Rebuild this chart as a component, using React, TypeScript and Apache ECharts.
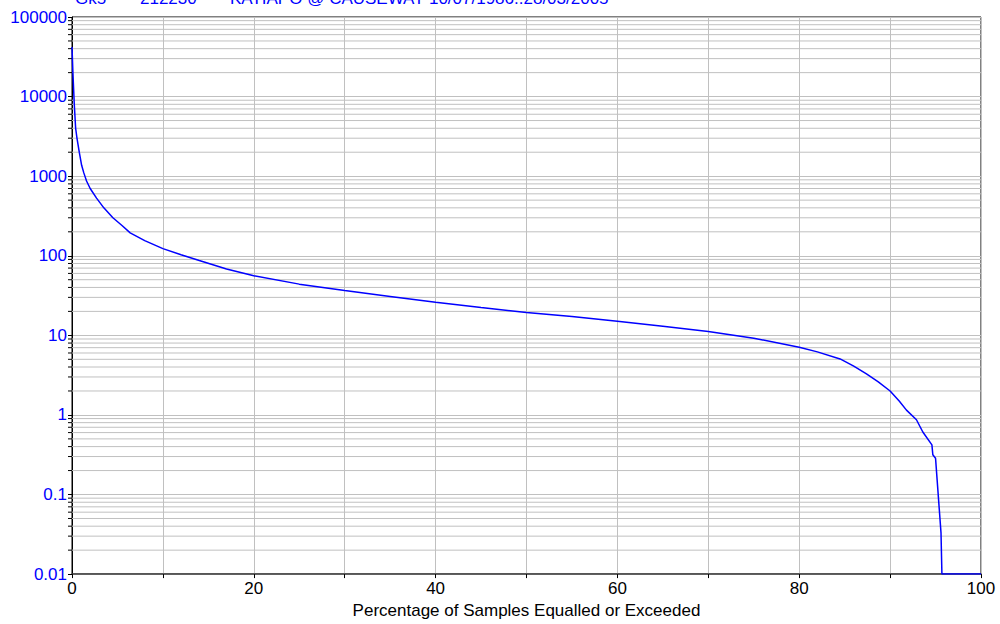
import React, { useEffect, useRef } from "react";
import * as echarts from "echarts";

const percent: number[] = [0, 0.1, 0.25, 0.4, 0.55, 0.8, 1.06, 1.3, 1.6, 2.0, 2.7, 3.5, 4.5, 5.5, 6.4, 8, 10, 12, 14, 17, 20, 25, 30, 35, 40, 45, 50, 55, 60, 65, 70, 75, 80, 82, 84.5, 86, 87.4, 88.7, 90, 91, 91.8, 92.9, 93.6, 94.6, 94.7, 95.0, 95.6, 95.7, 100];
const flowValues: number[] = [42000, 20000, 8000, 4000, 2985, 2000, 1370, 1100, 870, 700, 530, 400, 300, 240, 194, 155, 123, 103, 87, 68, 56, 44, 36.5, 30.8, 26, 22.4, 19.4, 17.3, 15, 13, 11.2, 9.2, 7.1, 6.2, 5.05, 4.1, 3.28, 2.6, 2.0, 1.5, 1.15, 0.87, 0.61, 0.42, 0.316, 0.285, 0.033, 0.01, 0.01];

const yTickLabels: string[] = ["0.01", "0.1", "1", "10", "100", "1000", "10000", "100000"];
const xTickLabels: number[] = [0, 20, 40, 60, 80, 100];
const minorMultipliers: number[] = [2, 3, 4, 5, 6, 7, 8, 9];
const decadeStarts: number[] = [0.01, 0.1, 1, 10, 100, 1000, 10000];

const headerTexts: string[] = ["Gk5", "212230", "KATIAPO @ CAUSEWAY 10/07/1986..28/03/2005"];

const FONT = "'Liberation Sans', Arial, sans-serif";
const BLUE = "#0000ff";

export default function App() {
  const ref = useRef<HTMLDivElement>(null);
  useEffect(() => {
    if (!ref.current) return;
    const chart = echarts.init(ref.current, undefined, { renderer: "svg" });

    const minorVals: number[][] = [];
    decadeStarts.forEach((d) => minorMultipliers.forEach((m) => minorVals.push([0, d * m])));

    const lineData = percent.map((p, i) => [p, flowValues[i]]);

    chart.setOption({
      animation: false,
      backgroundColor: "#ffffff",
      textStyle: { fontFamily: FONT },
      grid: {
        left: 72,
        right: 19,
        top: 17,
        bottom: 47,
        show: true,
        borderColor: "#000000",
        borderWidth: 1,
        backgroundColor: "transparent",
      },
      graphic: [
        { type: "text", left: 75, y: -2, style: { text: headerTexts[0], fill: BLUE, font: `17px ${FONT}`, verticalAlign: "middle" } },
        { type: "text", left: 140, y: -2, style: { text: headerTexts[1], fill: BLUE, font: `17px ${FONT}`, verticalAlign: "middle" } },
        { type: "text", left: 230, y: -2, style: { text: headerTexts[2], fill: BLUE, font: `17px ${FONT}`, verticalAlign: "middle" } },
      ],
      xAxis: {
        type: "value",
        min: 0,
        max: 100,
        interval: 10,
        name: "Percentage of Samples Equalled or Exceeded",
        nameLocation: "middle",
        nameGap: 22,
        nameTextStyle: { color: "#000000", fontSize: 17, fontFamily: FONT },
        axisLine: { show: true, onZero: false, lineStyle: { color: "#404040", width: 1.5 } },
        axisTick: { show: true, length: 4, inside: false, lineStyle: { color: "#000000" } },
        axisLabel: {
          color: "#000000",
          fontSize: 17,
          fontFamily: FONT,
          margin: 6,
          formatter: (v: number) => (xTickLabels.indexOf(Math.round(v)) >= 0 ? String(Math.round(v)) : ""),
        },
        splitLine: { show: true, lineStyle: { color: "#c0c0c0", width: 1 } },
      },
      yAxis: {
        type: "log",
        logBase: 10,
        min: 0.01,
        max: 100000,
        axisLine: { show: true, lineStyle: { color: "#000000", width: 1 } },
        axisTick: { show: true, length: 4, lineStyle: { color: "#000000" } },
        axisLabel: {
          color: BLUE,
          fontSize: 17,
          fontFamily: FONT,
          margin: 5,
          verticalAlign: "middle",
          lineHeight: 17,
          padding: [0, 0, 7, 0],
          formatter: (v: number) => {
            const idx = Math.round(Math.log10(v)) + 2;
            return yTickLabels[idx] ?? "";
          },
        },
        splitLine: { show: true, lineStyle: { color: "#c0c0c0", width: 1 } },
      },
      series: [
        {
          type: "custom",
          coordinateSystem: "cartesian2d",
          clip: false,
          silent: true,
          z: 1,
          data: minorVals,
          renderItem: (params: any, api: any) => {
            const v = api.value(1);
            const a = api.coord([0, v]);
            const b = api.coord([100, v]);
            return {
              type: "group",
              children: [
                { type: "line", shape: { x1: a[0], y1: a[1], x2: b[0], y2: b[1] }, style: { stroke: "#c0c0c0", lineWidth: 1 } },
                { type: "line", shape: { x1: a[0] - 4, y1: a[1], x2: a[0], y2: a[1] }, style: { stroke: "#000000", lineWidth: 1 } },
              ],
            };
          },
        },
        {
          type: "line",
          data: lineData,
          showSymbol: false,
          symbol: "none",
          z: 5,
          lineStyle: { color: BLUE, width: 1.5 },
        },
      ],
    });
    return () => chart.dispose();
  }, []);
  return <div ref={ref} style={{ position: "absolute", left: 0, top: 0, width: 1000, height: 624 }} />;
}
